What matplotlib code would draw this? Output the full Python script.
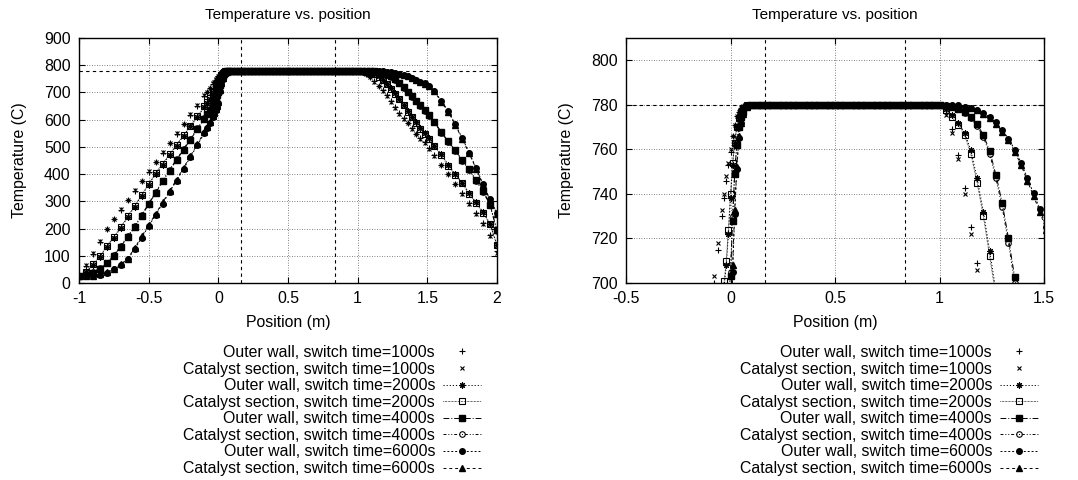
import matplotlib
matplotlib.use('Agg')
import matplotlib.pyplot as plt
from matplotlib.ticker import FuncFormatter, MultipleLocator

plt.rcParams['font.family'] = ['Liberation Sans', 'DejaVu Sans']
plt.rcParams['font.size'] = 11.4
plt.rcParams['axes.unicode_minus'] = False

# Positions along the reactor (m): inlet zone, catalyst section, outlet zone
POS_RISE = [-1.00, -0.95, -0.90, -0.85, -0.80, -0.75, -0.70, -0.65, -0.60, -0.55,
            -0.50, -0.45, -0.40, -0.35, -0.30, -0.25, -0.20, -0.15,
            -0.10, -0.08, -0.06, -0.04, -0.03, -0.02, -0.01, 0.00, 0.01, 0.02,
            0.03, 0.04, 0.05, 0.06, 0.08, 0.10]
POS_PLATEAU = [0.125, 0.150, 0.175, 0.200, 0.225, 0.250, 0.275, 0.300, 0.325, 0.350,
               0.375, 0.400, 0.425, 0.450, 0.475, 0.500, 0.525, 0.550, 0.575, 0.600,
               0.625, 0.650, 0.675, 0.700, 0.725, 0.750, 0.775, 0.800, 0.825, 0.850,
               0.875, 0.900, 0.925, 0.950, 0.975, 1.000]
POS_FALL = [1.03, 1.06, 1.09, 1.12, 1.15, 1.18, 1.21, 1.24, 1.27, 1.30,
            1.33, 1.36, 1.39, 1.42, 1.45, 1.48, 1.51,
            1.55, 1.60, 1.65, 1.70, 1.75, 1.80, 1.85, 1.90, 1.95, 2.00]

PLATEAU_T = [780, 780, 780, 780, 780, 780, 780, 780, 780, 780,
             780, 780, 780, 780, 780, 780, 780, 780, 780, 780,
             780, 780, 780, 780, 780, 780, 780, 780, 780, 780,
             780, 780, 780, 780, 780, 780]

# Temperatures (C), rising side
WALL_1000_RISE = [25, 64, 106, 152, 197, 234, 269, 304, 339, 374, 408, 443, 478, 513, 548, 583, 617, 651,
                  687, 700, 715, 730, 738, 746, 753, 759, 766, 771, 775, 777, 778.5, 779.3, 780, 780]
CAT_1000_RISE = [25, 67, 109, 155, 200, 236, 271, 306, 341, 376, 410, 445, 480, 515, 550, 585, 619, 653,
                 690, 703, 718, 733, 740, 748, 754, 760, 766, 771, 775, 777, 778.5, 779.3, 780, 780]
WALL_2000_RISE = [25, 40, 65, 97, 132, 167, 202, 242, 281, 321, 361, 400, 435, 470, 505, 540, 575, 610,
                  646, 661, 675, 690, 699, 708, 722, 738, 753, 763, 770, 774, 777, 778.5, 779.7, 780]
CAT_2000_RISE = [25, 42, 68, 100, 135, 170, 205, 245, 284, 324, 364, 403, 438, 473, 508, 543, 578, 613,
                 649, 664, 678, 693, 701, 710, 724, 740, 754, 763, 770, 774, 777, 778.5, 779.7, 780]
WALL_4000_RISE = [25, 29, 38, 53, 72, 100, 134, 169, 205, 247, 289, 331, 373, 413, 451, 489, 527, 565,
                  603, 619, 637, 657, 667, 679, 691, 703, 728, 749, 762, 770, 774.5, 777, 779.3, 780]
CAT_4000_RISE = [25, 30, 40, 55, 75, 103, 137, 172, 208, 250, 292, 334, 376, 416, 454, 492, 530, 568,
                 606, 622, 640, 660, 670, 682, 693, 705, 730, 750, 762, 770, 774.5, 777, 779.3, 780]
WALL_6000_RISE = [25, 25, 26, 31, 38, 50, 66, 87, 125, 167, 209, 250, 292, 334, 376, 419, 463, 507,
                  551, 569, 588, 609, 621, 635, 648, 662, 705, 731, 751, 765, 772, 776, 779, 780]
CAT_6000_RISE = [25, 25, 27, 32, 40, 52, 68, 90, 129, 171, 213, 254, 296, 338, 380, 423, 467, 511,
                 555, 573, 591, 612, 624, 638, 650, 665, 708, 733, 752, 766, 772, 776, 779, 780]

# Temperatures (C), falling side
WALL_1000_FALL = [776.5, 769, 757.5, 742.5, 725, 709, 689, 668, 645, 625, 607, 589, 569, 549, 533, 517, 497,
                  471, 435, 402, 365, 329, 293, 258, 221, 176, 116]
CAT_1000_FALL = [775.5, 767.5, 755.5, 740, 722, 706, 686, 665, 642, 622, 604, 586, 566, 546, 530, 514, 494,
                 468, 432, 399, 362, 326, 290, 255, 218, 172, 112]
WALL_2000_FALL = [778, 775.5, 772, 767.5, 759.5, 747, 732, 714.5, 696.5, 677.5, 655.5, 633, 611, 590, 570, 551, 531,
                  505, 473, 434, 401, 369, 330, 296, 261, 218, 141]
CAT_2000_FALL = [777.5, 774.5, 771, 766.5, 758, 745, 730, 712, 694, 675, 653, 630, 608, 587, 567, 548, 528,
                 502, 470, 431, 398, 366, 327, 293, 258, 215, 138]
WALL_4000_FALL = [779.6, 779.2, 778.3, 777, 774.6, 771.3, 766.5, 759.3, 748.6, 736, 720, 702.5, 686.5, 669.5,
                  652.5, 634.5, 617.5, 593, 555, 521, 487, 453, 418, 378, 339, 288, 193]
CAT_4000_FALL = [779.5, 779, 778, 776.5, 774, 770.5, 765.5, 758, 747, 734, 718, 700, 684, 667, 650, 632, 615,
                 590, 552, 518, 484, 450, 415, 375, 336, 285, 190]
WALL_6000_FALL = [780, 780, 779.7, 779.2, 778.7, 777.8, 776.4, 774.5, 772.1, 768.7, 764.8, 759.9, 754, 747.2,
                  740.2, 733.2, 725.3, 707, 668, 633, 583, 533, 479, 423, 363, 308, 257]
CAT_6000_FALL = [780, 780, 779.5, 779, 778.5, 777.5, 776, 774, 771.5, 768, 764, 759, 753, 746, 739, 732, 724,
                 705, 665, 630, 580, 530, 476, 420, 360, 305, 254]

LABELS = ['Outer wall, switch time=1000s', 'Catalyst section, switch time=1000s',
          'Outer wall, switch time=2000s', 'Catalyst section, switch time=2000s',
          'Outer wall, switch time=4000s', 'Catalyst section, switch time=4000s',
          'Outer wall, switch time=6000s', 'Catalyst section, switch time=6000s']

SECTION_EDGES = [0.165, 0.835]
SETPOINT = 780

position = POS_RISE + POS_PLATEAU + POS_FALL
series = [
    WALL_1000_RISE + PLATEAU_T + WALL_1000_FALL,
    CAT_1000_RISE + PLATEAU_T + CAT_1000_FALL,
    WALL_2000_RISE + PLATEAU_T + WALL_2000_FALL,
    CAT_2000_RISE + PLATEAU_T + CAT_2000_FALL,
    WALL_4000_RISE + PLATEAU_T + WALL_4000_FALL,
    CAT_4000_RISE + PLATEAU_T + CAT_4000_FALL,
    WALL_6000_RISE + PLATEAU_T + WALL_6000_FALL,
    CAT_6000_RISE + PLATEAU_T + CAT_6000_FALL,
]

# gnuplot-like monochrome styles
styles = [
    dict(linestyle='none', marker='+', ms=4, mew=0.8),
    dict(linestyle='none', marker='x', ms=3.5, mew=0.8),
    dict(linestyle=(0, (1.2, 2)), marker=(8, 2, 0), ms=4.5, mew=0.8),
    dict(linestyle=(0, (0.6, 0.9)), marker='s', ms=4, mfc='none', mew=0.8),
    dict(linestyle=(0, (6, 2, 1, 2)), marker='s', ms=4),
    dict(linestyle=(0, (3, 2, 1, 2, 1, 2)), marker='o', ms=4, mfc='none', mew=0.8),
    dict(linestyle=(0, (2, 2)), marker='o', ms=4),
    dict(linestyle=(0, (3, 3)), marker='^', ms=4),
]

fmt = FuncFormatter(lambda v, p: '%g' % v)

fig = plt.figure(figsize=(10.78, 4.8), dpi=100)
ax1 = fig.add_axes([79 / 1078, 1 - 283 / 480, 418 / 1078, 245 / 480])
ax2 = fig.add_axes([626 / 1078, 1 - 283 / 480, 418 / 1078, 245 / 480])

for ax in (ax1, ax2):
    for y, st, lab in zip(series, styles, LABELS):
        ax.plot(position, y, color='black', lw=0.7, label=lab, **st)
    for xe in SECTION_EDGES:
        ax.axvline(xe, color='black', lw=0.8, linestyle=(0, (3, 3)))
    ax.axhline(SETPOINT, color='black', lw=0.8, linestyle=(0, (3, 3)))
    ax.grid(True, color='0.35', lw=0.6, linestyle=(0, (1, 2)))
    ax.tick_params(direction='in', top=True, right=True, length=4, width=0.8)
    ax.tick_params(axis='y', pad=6)
    ax.tick_params(axis='x', pad=6)
    ax.xaxis.set_major_formatter(fmt)
    ax.yaxis.set_major_formatter(fmt)
    for s in ax.spines.values():
        s.set_linewidth(1.0)
    ax.set_title('Temperature vs. position', pad=14, fontsize=11)
    ax.set_xlabel('Position (m)', labelpad=6)
    ax.set_ylabel('Temperature (C)', labelpad=12)

ax1.set_xlim(-1, 2)
ax1.set_ylim(0, 900)
ax1.xaxis.set_major_locator(MultipleLocator(0.5))
ax1.yaxis.set_major_locator(MultipleLocator(100))

ax2.set_xlim(-0.5, 1.5)
ax2.set_ylim(700, 810)
ax2.xaxis.set_major_locator(MultipleLocator(0.5))
ax2.yaxis.set_major_locator(MultipleLocator(20))

for ax, xr in ((ax1, 481 / 1078), (ax2, 1038 / 1078)):
    ax.legend(loc='upper right', bbox_to_anchor=(xr, 1 - 345 / 480), bbox_transform=fig.transFigure,
              frameon=False, markerfirst=False, borderpad=0, borderaxespad=0,
              handlelength=2.4, handletextpad=0.5, labelspacing=0.1, numpoints=1)

fig.savefig('out.png', dpi=100)
